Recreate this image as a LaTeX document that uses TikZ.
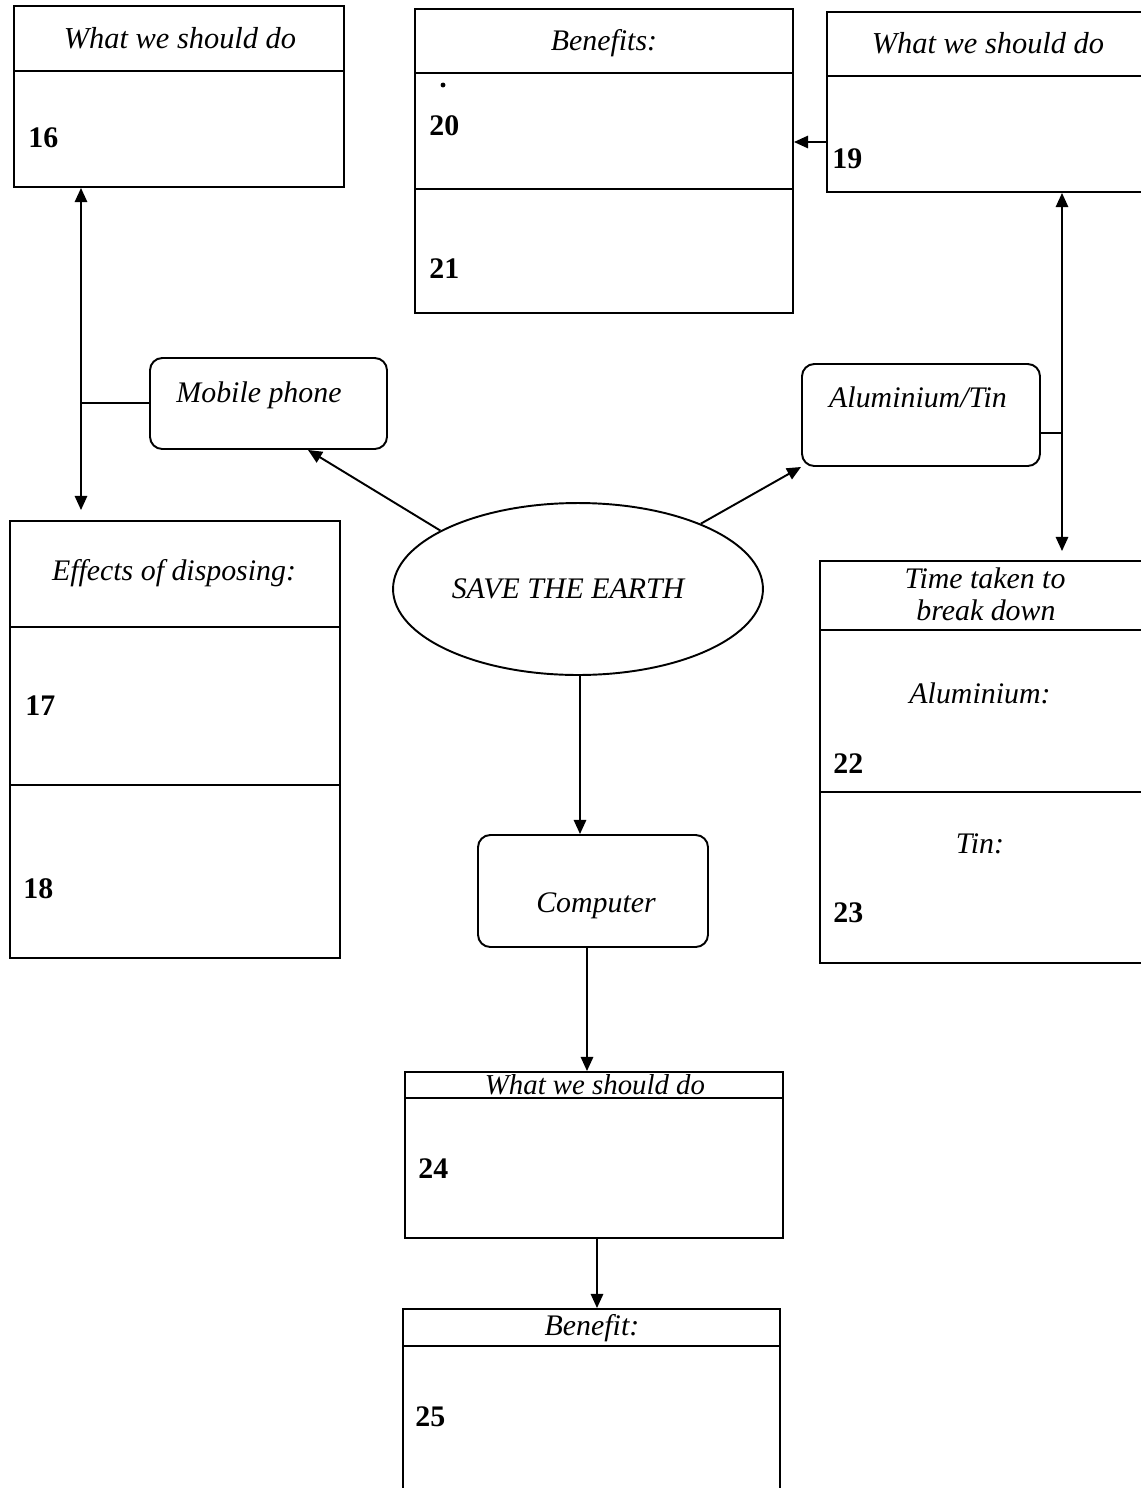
\documentclass[tikz,border=0pt]{standalone}
\usepackage{fontspec}
\setmainfont{Liberation Serif}
\usetikzlibrary{arrows.meta,shapes.geometric,fit}
\begin{document}
\begin{tikzpicture}[x=0.02cm,y=-0.02cm,
  box/.style={draw,line width=1.1pt,inner sep=0pt},
  rbox/.style={draw,line width=1.1pt,inner sep=0pt,rounded corners=7pt},
  lin/.style={line width=1.1pt},
  arr/.style={line width=1.1pt,-{Triangle[length=8pt,width=7pt]}},
  ttl/.style={font=\fontsize{17}{20}\selectfont\itshape,anchor=base,inner sep=0pt},
  wtl/.style={font=\fontsize{17.3}{20}\selectfont\itshape,anchor=base,inner sep=0pt},
  num/.style={font=\fontsize{17}{20}\selectfont\bfseries,anchor=base west,inner sep=0pt}]
\useasboundingbox (0,0) rectangle (1141,1488);

% Box A (16)
\node[box,fit={(14,6) (344,187)}] (A) {};
\draw[lin] (14,71) -- (344,71);
\node[wtl] (At) at (180,48) {What we should do};
\node[num] (A16) at (28,147) {16};

% Box B (20/21)
\node[box,fit={(415,9) (793,313)}] (B) {};
\draw[lin] (415,73) -- (793,73);
\draw[lin] (415,189) -- (793,189);
\node[ttl] (Bt) at (604,50) {Benefits:};
\fill (443,85) circle (1.4pt);
\node[num] (B20) at (429,135) {20};
\node[num] (B21) at (429,278) {21};

% Box C (19)
\node[box,fit={(827,12) (1148,192)}] (C) {};
\draw[lin] (827,76) -- (1148,76);
\node[wtl] (Ct) at (988,53) {What we should do};
\node[num] (C19) at (832,168) {19};

% Mobile phone
\node[rbox,fit={(150,358) (387,449)}] (mob) {};
\node[ttl] (mobt) at (259,402) {Mobile phone};

% Aluminium/Tin
\node[rbox,fit={(802,364) (1040,466)}] (al) {};
\node[ttl] (alt) at (918,407) {Aluminium/Tin};

% Box D (17/18)
\node[box,fit={(10,521) (340,958)}] (D) {};
\draw[lin] (10,627) -- (340,627);
\draw[lin] (10,785) -- (340,785);
\node[ttl] (Dt) at (174,580) {Effects of disposing:};
\node[num] (D17) at (25,715) {17};
\node[num] (D18) at (23,898) {18};

% Ellipse
\node[draw,line width=1.1pt,ellipse,minimum width=7.4cm,minimum height=3.44cm,inner sep=0pt] (earth) at (578,589) {};
\node[ttl] (eartht) at (568,598) {SAVE THE EARTH};

% Box E (22/23)
\node[box,fit={(820,561) (1150,963)}] (E) {};
\draw[lin] (820,630) -- (1150,630);
\draw[lin] (820,792) -- (1150,792);
\node[ttl] (Et1) at (985,588) {Time taken to};
\node[ttl] (Et2) at (986,620) {break down};
\node[ttl] (Eal) at (980,703) {Aluminium:};
\node[ttl] (Etin) at (980,853) {Tin:};
\node[num] (E22) at (833,773) {22};
\node[num] (E23) at (833,922) {23};

% Computer
\node[rbox,fit={(478,835) (708,947)}] (comp) {};
\node[ttl] (compt) at (596,912) {Computer};

% Box F (24)
\node[box,fit={(405,1072) (783,1238)}] (F) {};
\draw[lin] (405,1098) -- (783,1098);
\node[font=\fontsize{16.4}{19}\selectfont\itshape,anchor=base,inner sep=0pt] (Ft) at (595,1094) {What we should do};
\node[num] (F24) at (418,1178) {24};

% Box G (25)
\node[box,fit={(403,1309) (780,1500)}] (G) {};
\draw[lin] (403,1346) -- (780,1346);
\node[ttl] (Gt) at (592,1335) {Benefit:};
\node[num] (G25) at (415,1426) {25};

% connectors
\coordinate (jl) at (81,403);
\draw[lin] (mob.west |- jl) -- (jl);
\draw[arr] (jl) -- (A.south -| jl);
\draw[arr,shorten >=0.2cm] (jl) -- (D.north -| jl);

\coordinate (jr) at (1062,433);
\draw[lin] (al.east |- jr) -- (jr);
\draw[arr] (jr) -- (C.south -| jr);
\draw[arr,shorten >=0.18cm] (jr) -- (E.north -| jr);

\coordinate (r19) at (0,142);
\draw[arr] (C.west |- r19) -- (B.east |- r19);

\coordinate (pm) at (308,0);
\draw[arr] (earth.157) -- (mob.south -| pm);
\draw[arr] (earth.28) -- (al.south west);

\coordinate (xc) at (580,0);
\draw[arr] (earth.south -| xc) -- (comp.north -| xc);
\coordinate (xf) at (587,0);
\draw[arr] (comp.south -| xf) -- (F.north -| xf);
\coordinate (xg) at (597,0);
\draw[arr] (F.south -| xg) -- (G.north -| xg);
\end{tikzpicture}
\end{document}
